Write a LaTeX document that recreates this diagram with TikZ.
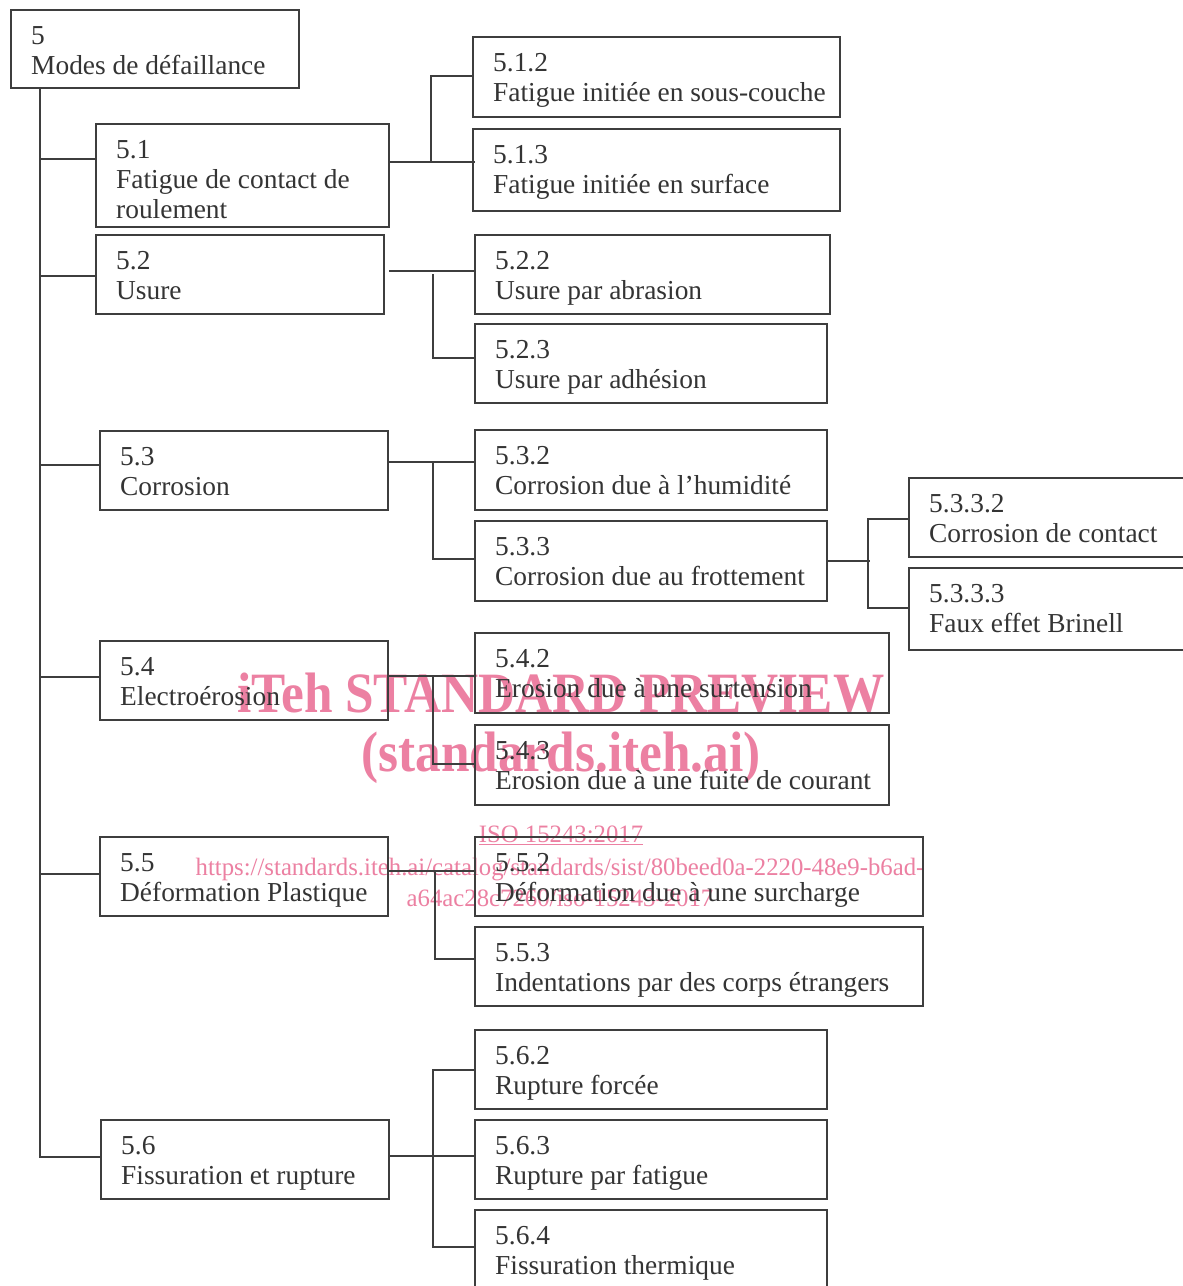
\documentclass[tikz,border=0pt]{standalone}
\usepackage{fontspec}
\setmainfont{Liberation Serif}
\definecolor{ln}{RGB}{62,62,62}
\definecolor{tx}{RGB}{52,52,52}
\definecolor{wm}{RGB}{236,128,162}
\newcommand{\lns}[1]{\vtop{\halign{##\hfil\cr#1\cr}}}
\newcommand{\bx}[6]{%
  \node[boxn, minimum width={#4-#2}, minimum height={#5-#3}, anchor=north west] (#1) at (#2,#3) {};
  \node[txt, anchor=base west] (#1t) at ([xshift=20pt,yshift=-34pt]#1.north west) {\lns{#6}};}
\tikzset{
  boxn/.style={draw=ln, line width=1.8pt, rectangle, inner sep=0pt, outer sep=0pt},
  txt/.style={inner sep=0pt, text=tx, font=\fontsize{27.4}{30}\selectfont},
  conn/.style={draw=ln, line width=1.8pt},
  wmbig/.style={text=wm, inner sep=0pt, anchor=base, transform shape, xscale=0.9, font=\bfseries\fontsize{57}{60}\selectfont},
  wmsmall/.style={text=wm, inner sep=0pt, anchor=base, transform shape, xscale=0.99, font=\fontsize{25}{30}\selectfont}
}
\begin{document}
\begin{tikzpicture}[x=1pt, y=-1pt]
\useasboundingbox (0,0) rectangle (1183,1286);
\fill[white] (0,0) rectangle (1183,1286);
\clip (0,0) rectangle (1183,1286);
% watermark (behind)
\node[wmbig] (wm1) at (561,712) {iTeh STANDARD PREVIEW};
\node[wmbig] (wm2) at (561,771) {(standards.iteh.ai)};
\node[wmsmall] (wm3) at (561,842) {\underline{ISO 15243:2017}};
\node[wmsmall] (wm4) at (560,875) {https://standards.iteh.ai/catalog/standards/sist/80beed0a-2220-48e9-b6ad-};
\node[wmsmall] (wm5) at (560,906) {a64ac28c7260/iso-15243-2017};
% boxes
\bx{n5}{11}{10}{299}{88}{5\cr Modes de défaillance}
\bx{n51}{96}{124}{389}{227}{5.1\cr Fatigue de contact de\cr roulement}
\bx{n52}{96}{235}{384}{314}{5.2\cr Usure}
\bx{n53}{100}{431}{388}{510}{5.3\cr Corrosion}
\bx{n54}{100}{641}{388}{720}{5.4\cr Electroérosion}
\bx{n55}{100}{837}{388}{916}{5.5\cr Déformation Plastique}
\bx{n56}{101}{1120}{389}{1199}{5.6\cr Fissuration et rupture}
\bx{n512}{473}{37}{840}{117}{5.1.2\cr Fatigue initiée en sous-couche}
\bx{n513}{473}{129}{840}{211}{5.1.3\cr Fatigue initiée en surface}
\bx{n522}{475}{235}{830}{314}{5.2.2\cr Usure par abrasion}
\bx{n523}{475}{324}{827}{403}{5.2.3\cr Usure par adhésion}
\bx{n532}{475}{430}{827}{510}{5.3.2\cr Corrosion due à l’humidité}
\bx{n533}{475}{521}{827}{601}{5.3.3\cr Corrosion due au frottement}
\bx{n5332}{909}{478}{1195}{557}{5.3.3.2\cr Corrosion de contact}
\bx{n5333}{909}{568}{1195}{650}{5.3.3.3\cr Faux effet Brinell}
\bx{n542}{475}{633}{889}{713}{5.4.2\cr Erosion due à une surtension}
\bx{n543}{475}{725}{889}{805}{5.4.3\cr Erosion due à une fuite de courant}
\bx{n552}{475}{837}{923}{916}{5.5.2\cr Déformation due à une surcharge}
\bx{n553}{475}{927}{923}{1006}{5.5.3\cr Indentations par des corps étrangers}
\bx{n562}{475}{1030}{827}{1109}{5.6.2\cr Rupture forcée}
\bx{n563}{475}{1120}{827}{1199}{5.6.3\cr Rupture par fatigue}
\bx{n564}{475}{1210}{827}{1296}{5.6.4\cr Fissuration thermique}
% main bus
\coordinate (bus) at ([xshift=29pt]n5.south west);
\draw[conn] (bus) -- (bus |- 0,1157) -- (n56.west |- 0,1157);
\draw[conn] (bus |- 0,159) -- (n51.west |- 0,159);
\draw[conn] (bus |- 0,276) -- (n52.west |- 0,276);
\draw[conn] (bus |- 0,465) -- (n53.west |- 0,465);
\draw[conn] (bus |- 0,677) -- (n54.west |- 0,677);
\draw[conn] (bus |- 0,874) -- (n55.west |- 0,874);
% 5.1
\coordinate (j51) at (431,162);
\draw[conn] (n51.east |- j51) -- ([xshift=2pt]n513.west |- j51);
\draw[conn] (j51) |- (n512.west |- 0,76);
% 5.2
\coordinate (j52) at (433,274);
\draw[conn] ([xshift=5pt]n52.east |- 0,271) -- (n522.west |- 0,271);
\draw[conn] (j52) |- (n523.west |- 0,358);
% 5.3
\coordinate (j53) at (433,462);
\draw[conn] (n53.east |- j53) -- (n532.west |- j53);
\draw[conn] (j53) |- (n533.west |- 0,559);
% 5.3.3
\coordinate (j533) at (868,561);
\draw[conn] (n533.east |- j533) -- ([xshift=2pt]j533);
\draw[conn] (n5332.west |- 0,519) -| (868,608) -- (n5333.west |- 0,608);
% 5.4
\coordinate (j54) at (433,676);
\draw[conn] (n54.east |- j54) -- (n542.west |- j54);
\draw[conn] (j54) |- (n543.west |- 0,764);
% 5.5
\coordinate (j55) at (435,871);
\draw[conn] (n55.east |- j55) -- (n552.west |- j55);
\draw[conn] (j55) |- (n553.west |- 0,959);
% 5.6
\coordinate (j56) at (433,1156);
\draw[conn] (n56.east |- j56) -- (n563.west |- j56);
\draw[conn] (n562.west |- 0,1070) -| (433,1247) -- (n564.west |- 0,1247);
\end{tikzpicture}
\end{document}
